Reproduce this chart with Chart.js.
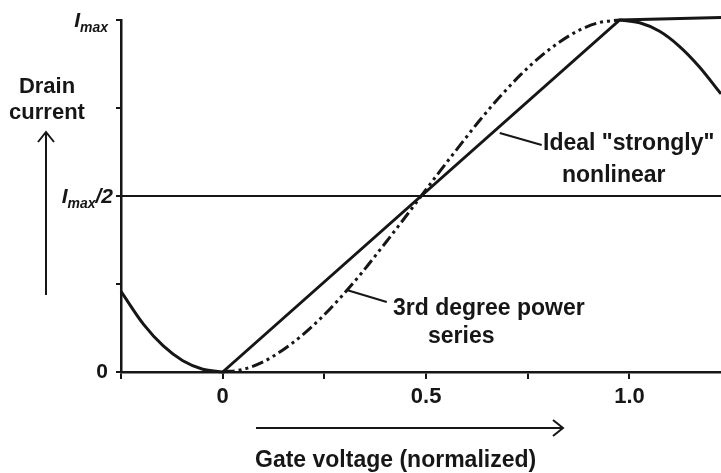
<!DOCTYPE html>
<html>
<head>
<meta charset="utf-8">
<script src="https://cdn.jsdelivr.net/npm/chart.js@4"></script>
<style>
  html, body { margin: 0; padding: 0; background: #fff; }
  canvas { display: block; }
</style>
</head>
<body>
<canvas id="chart" width="721" height="473"></canvas>
<script>
// axis ticks
const xTickValues = [-0.25, 0, 0.25, 0.5, 0.75, 1.0];
const xTickText = ["", "0", "", "0.5", "", "1.0"];
const yTickValues = [0, 0.25, 0.5, 0.75, 1.0];

// 3rd degree power series
const cubicLeftX = [-0.25, -0.195, -0.146, -0.098, -0.049, 0];
const cubicLeftY = [0.229, 0.136, 0.074, 0.032, 0.008, 0];
const cubicMidX = [0, 0.049, 0.098, 0.146, 0.195, 0.244, 0.293, 0.342, 0.39, 0.439, 0.488,
  0.537, 0.586, 0.634, 0.683, 0.732, 0.781, 0.83, 0.878, 0.927, 0.976];
const cubicMidY = [0, 0.007, 0.028, 0.061, 0.104, 0.156, 0.216, 0.282, 0.352, 0.425, 0.5,
  0.575, 0.648, 0.718, 0.784, 0.844, 0.896, 0.939, 0.972, 0.993, 1.0];
const cubicRightX = [0.976, 1.025, 1.074, 1.122, 1.171, 1.225];
const cubicRightY = [1.0, 0.992, 0.968, 0.926, 0.868, 0.79];

// ideal "strongly" nonlinear
const idealX = [0, 0.976, 1.225];
const idealY = [0, 1.0, 1.007];

// Imax/2 reference line
const halfX = [-0.25, 1.225];
const halfY = [0.5, 0.5];

const pts = (xs, ys) => xs.map((x, i) => ({ x, y: ys[i] }));
const INK = "#161616";
const FONT = "'Liberation Sans', Arial, sans-serif";

const extras = {
  id: "extras",
  afterDraw(chart) {
    const { ctx, scales } = chart;
    const xs = scales.x, ys = scales.y;
    ctx.save();
    ctx.fillStyle = INK;
    ctx.strokeStyle = INK;

    // y labels
    ctx.font = "bold 21px " + FONT;
    ctx.textAlign = "right";
    ctx.textBaseline = "middle";
    ctx.fillText("0", 108, ys.getPixelForValue(0));
    ctx.textBaseline = "alphabetic";

    const imaxLabel = (right, base, tail) => {
      ctx.textAlign = "left";
      ctx.font = "italic bold 21px " + FONT;
      const wI = ctx.measureText("I").width;
      const wT = tail ? ctx.measureText(tail).width : 0;
      ctx.font = "italic bold 14px " + FONT;
      const wM = ctx.measureText("max").width;
      const x = right - wI - wM - wT;
      ctx.font = "italic bold 21px " + FONT;
      ctx.fillText("I", x, base);
      ctx.font = "italic bold 14px " + FONT;
      ctx.fillText("max", x + wI, base + 5);
      if (tail) {
        ctx.font = "italic bold 21px " + FONT;
        ctx.fillText(tail, x + wI + wM, base);
      }
    };
    imaxLabel(108, ys.getPixelForValue(1) + 7, "");
    imaxLabel(113, ys.getPixelForValue(0.5) + 7, "/2");

    // axis titles
    ctx.font = "bold 22px " + FONT;
    ctx.textAlign = "center";
    ctx.fillText("Drain", 47, 93);
    ctx.fillText("current", 47, 119);
    ctx.textAlign = "left";
    ctx.font = "bold 23px " + FONT;
    ctx.fillText("Gate voltage (normalized)", 255, 467);

    // arrows
    ctx.lineWidth = 2;
    ctx.beginPath();
    ctx.moveTo(46, 295); ctx.lineTo(46, 132);
    ctx.moveTo(38, 142); ctx.lineTo(46, 132); ctx.lineTo(54, 142);
    ctx.moveTo(256, 428); ctx.lineTo(563, 428);
    ctx.moveTo(553, 420); ctx.lineTo(563, 428); ctx.lineTo(553, 436);
    ctx.stroke();

    // annotation leaders
    const a1x = xs.getPixelForValue(0.681), a1y = ys.getPixelForValue(0.679);
    const a2x = xs.getPixelForValue(0.305), a2y = ys.getPixelForValue(0.233);
    ctx.beginPath();
    ctx.moveTo(a1x, a1y); ctx.lineTo(a1x + 42, a1y + 12);
    ctx.moveTo(a2x, a2y); ctx.lineTo(a2x + 40, a2y + 12);
    ctx.stroke();

    ctx.font = "bold 23px " + FONT;
    ctx.fillText('Ideal "strongly"', 543, 150);
    ctx.fillText("nonlinear", 562, 182);
    ctx.fillText("3rd degree power", 393, 315);
    ctx.fillText("series", 428, 343);
    ctx.restore();
  }
};

new Chart(document.getElementById("chart"), {
  type: "scatter",
  data: {
    datasets: [
      { data: pts(halfX, halfY), borderWidth: 2 },
      { data: pts(cubicLeftX, cubicLeftY), borderWidth: 3, cubicInterpolationMode: "monotone" },
      { data: pts(cubicMidX, cubicMidY), borderWidth: 3, cubicInterpolationMode: "monotone",
        borderDash: [12, 4, 3, 4, 3, 4] },
      { data: pts(cubicRightX, cubicRightY), borderWidth: 3, cubicInterpolationMode: "monotone" },
      { data: pts(idealX, idealY), borderWidth: 3 },
    ].map((d) => ({
      showLine: true,
      borderColor: INK,
      backgroundColor: INK,
      pointRadius: 0,
      pointHoverRadius: 0,
      tension: 0,
      clip: false,
      borderCapStyle: "butt",
      ...d,
    })),
  },
  options: {
    responsive: false,
    animation: false,
    devicePixelRatio: 1,
    layout: { padding: { top: 20, left: 0, right: 0, bottom: 0 } },
    plugins: { legend: { display: false }, tooltip: { enabled: false } },
    scales: {
      x: {
        type: "linear",
        min: -0.25,
        max: 1.225,
        afterFit(scale) { scale.height = 101; },
        afterBuildTicks(scale) { scale.ticks = xTickValues.map((v) => ({ value: v })); },
        border: { color: INK, width: 2.5 },
        grid: { drawOnChartArea: false, drawTicks: true, tickLength: 7, color: INK, lineWidth: 2 },
        ticks: {
          color: INK,
          padding: 5,
          maxRotation: 0,
          autoSkip: false,
          font: { family: FONT, size: 22, weight: "bold" },
          callback(value, index) { return xTickText[index]; },
        },
      },
      y: {
        type: "linear",
        min: 0,
        max: 1,
        afterFit(scale) { scale.width = 121; },
        afterBuildTicks(scale) { scale.ticks = yTickValues.map((v) => ({ value: v })); },
        border: { color: INK, width: 2.5 },
        grid: { drawOnChartArea: false, drawTicks: true, tickLength: 5, color: INK, lineWidth: 2 },
        ticks: { display: false },
      },
    },
  },
  plugins: [extras],
});
</script>
</body>
</html>
